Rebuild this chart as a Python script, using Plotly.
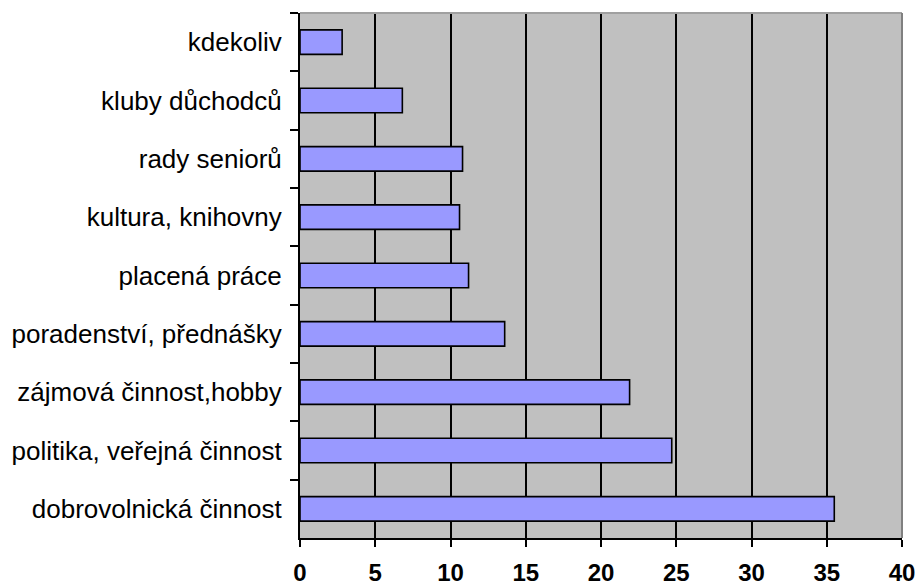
import plotly.graph_objects as go

# Activity categories (top to bottom) and their shares
categories = [
    "kdekoliv",
    "kluby důchodců",
    "rady seniorů",
    "kultura, knihovny",
    "placená práce",
    "poradenství, přednášky",
    "zájmová činnost,hobby",
    "politika, veřejná činnost",
    "dobrovolnická činnost",
]
values = [2.8, 6.8, 10.8, 10.6, 11.2, 13.6, 21.9, 24.7, 35.5]
x_ticks = [0, 5, 10, 15, 20, 25, 30, 35, 40]

fig = go.Figure(
    go.Bar(
        y=categories,
        x=values,
        orientation="h",
        marker=dict(color="#9999FF", line=dict(color="black", width=1.6)),
        width=0.42,
        hoverinfo="x+y",
    )
)

fig.update_layout(
    width=917,
    height=585,
    margin=dict(l=300, r=15, t=13, b=47, autoexpand=False),
    paper_bgcolor="white",
    plot_bgcolor="#C0C0C0",
    showlegend=False,
    font=dict(family="Liberation Sans, Arial, sans-serif", color="black"),
    xaxis=dict(
        range=[0, 40],
        tickvals=x_ticks,
        ticktext=[f"<b>{t}</b>" for t in x_ticks],
        tickfont=dict(size=24),
        showgrid=True,
        gridcolor="black",
        gridwidth=2,
        zeroline=False,
        showline=True,
        linecolor="black",
        linewidth=2,
        ticks="outside",
        ticklen=7,
        tickwidth=2,
        tickcolor="black",
        ticklabelstandoff=5,
        automargin=False,
    ),
    yaxis=dict(
        categoryorder="array",
        categoryarray=categories,
        autorange="reversed",
        tickson="boundaries",
        ticks="outside",
        ticklen=8,
        tickwidth=2,
        tickcolor="black",
        showgrid=False,
        showline=True,
        linecolor="black",
        linewidth=2,
        tickfont=dict(size=26),
        ticklabelstandoff=11,
        automargin=False,
    ),
    shapes=[
        # grey frame along the top and right of the plot area
        dict(type="line", xref="paper", yref="paper", x0=0, x1=1, y0=1, y1=1,
             line=dict(color="#A0A0A0", width=2)),
        dict(type="line", xref="paper", yref="paper", x0=1, x1=1, y0=0, y1=1,
             line=dict(color="#808080", width=2)),
    ],
)

fig.write_html("out.html")
